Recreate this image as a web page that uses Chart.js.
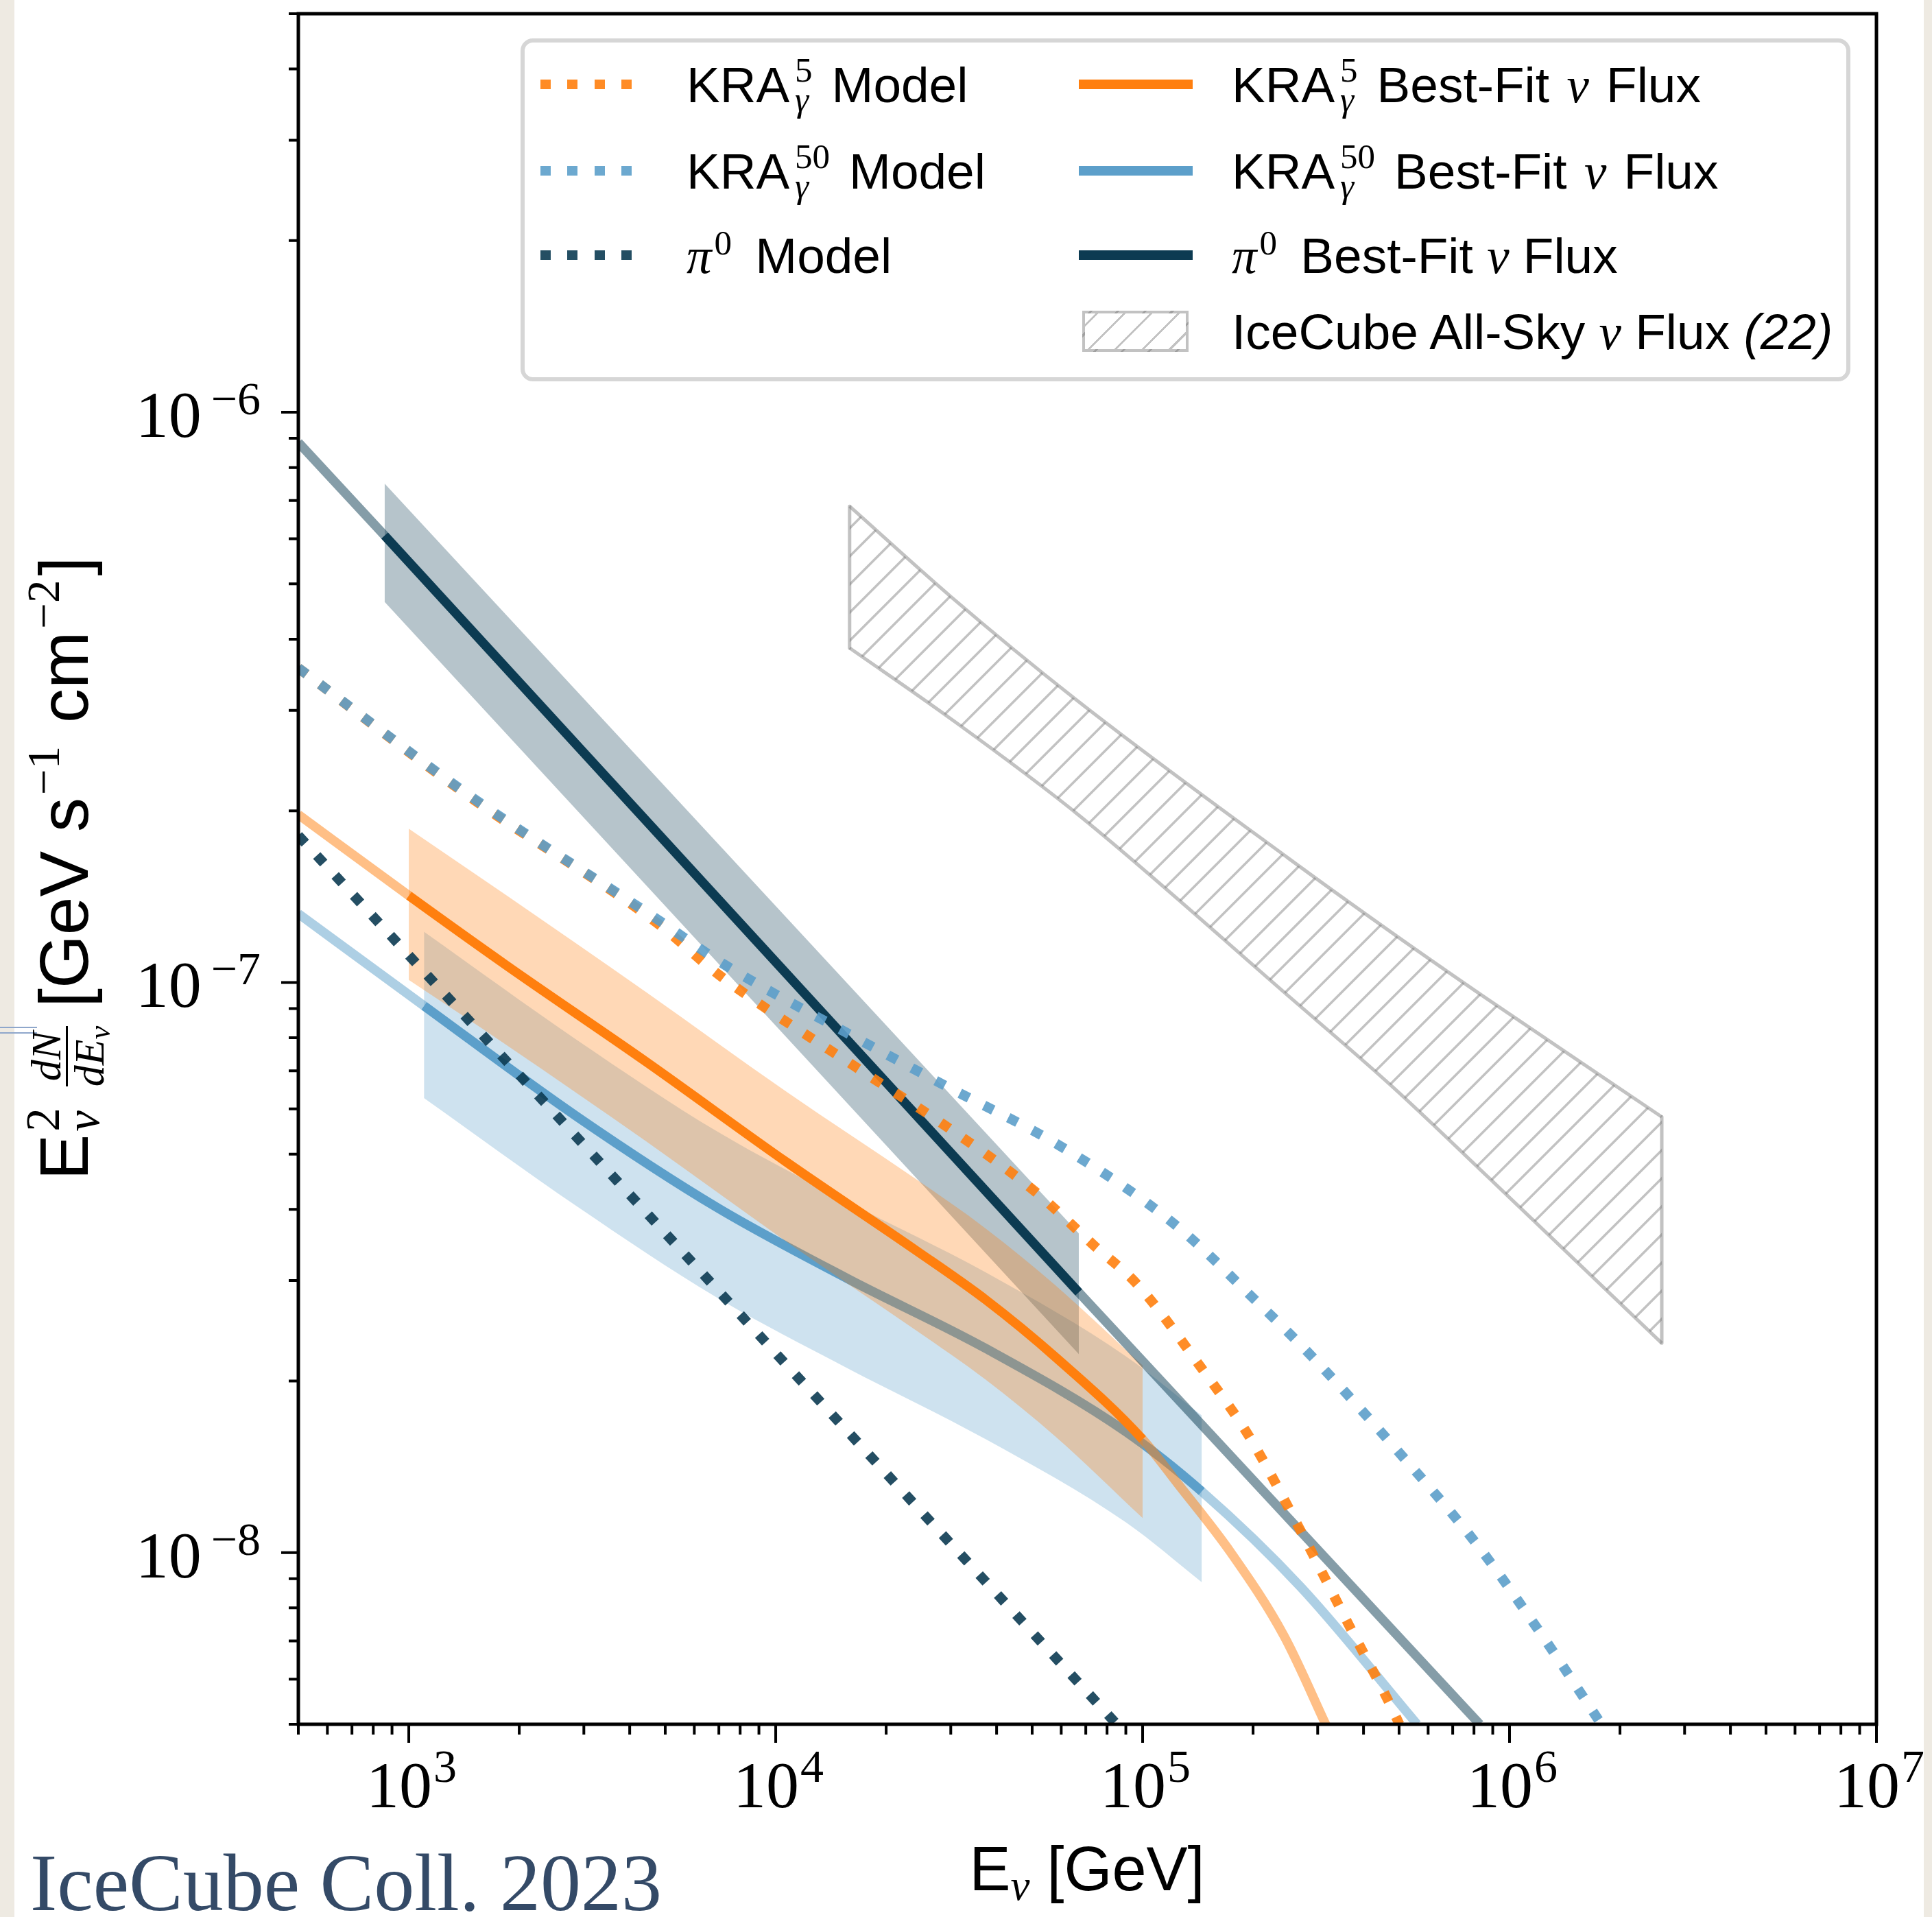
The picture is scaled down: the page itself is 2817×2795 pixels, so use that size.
<!DOCTYPE html>
<html>
<head>
<meta charset="utf-8">
<title>Galactic plane neutrino flux</title>
<script src="https://cdn.jsdelivr.net/npm/chart.js@4.4.1/dist/chart.umd.min.js"></script>
<style>
  body { margin: 0; width: 2817px; height: 2795px; position: relative; overflow: hidden; background: #eeeae2; }
  #sheet { position: absolute; left: 21px; top: 0; width: 2784px; height: 2795px; background: #fff; }
  #fluxChart { position: absolute; left: 0; top: 0; }
  .txt { position: absolute; white-space: nowrap; color: #000; font-family: 'Liberation Sans', Arial, sans-serif; }
  .math { font-family: 'Liberation Serif', 'DejaVu Serif', serif; font-style: italic; }

  /* legend */
  #legendBox { position: absolute; left: 759px; top: 56px; width: 1939px; height: 500px; box-sizing: border-box;
               border: 6px solid #d6d6d6; border-radius: 18px; background: #fff; }
  .sample { position: absolute; height: 14px; }
  .dots { width: 134px; background: repeating-linear-gradient(90deg, var(--c) 0 15px, transparent 15px 39.5px); }
  .solid { width: 166px; background: var(--c); }
  .hatch { left: 1578px; top: 453px; width: 155px; height: 60px; box-sizing: border-box;
           border: 4px solid rgba(120,120,120,0.45);
           background: repeating-linear-gradient(135deg, transparent 0 11px, rgba(120,120,120,0.45) 11px 14px, transparent 14px 28px); }
  .lg { font-size: 73px; line-height: 100px; }
  .ws { word-spacing: 5px; }
  .ss { display: inline-block; font-family: 'Liberation Serif', serif; font-size: 51px; line-height: 43px;
        vertical-align: -13px; margin: 0 28px 0 8px; word-spacing: 0; }
  .ss span { display: block; }
  .sp { font-family: 'Liberation Serif', serif; font-size: 51px; line-height: 40px; vertical-align: 27px; margin: 0 14px 0 4px; }

  /* axis titles */
  #xTitle { left: 1185px; top: 2665px; width: 800px; text-align: center; font-size: 90px; line-height: 120px; }
  .sub { font-family: 'Liberation Serif', serif; font-style: italic; font-size: 63px; line-height: 40px; vertical-align: -14px; }
  #yTitle { left: -507px; top: 1166px; width: 1200px; height: 200px; text-align: center; font-size: 100px;
            line-height: 200px; transform: rotate(-90deg); }
  .ss2 { display: inline-block; font-family: 'Liberation Serif', serif; font-size: 69px; line-height: 58px;
         vertical-align: -16px; margin: 0 23px 0 4px; text-align: left; }
  .ss2 span { display: block; }
  .frac { display: inline-block; vertical-align: -23px; text-align: center; font-family: 'Liberation Serif', serif;
          font-style: italic; font-size: 62px; margin: 0 27px 0 8px; }
  .frac .num { display: block; line-height: 46px; padding: 0 5px 6px; border-bottom: 3px solid #000; }
  .frac .den { display: block; line-height: 46px; padding-top: 8px; }
  .frac .den span { font-size: 44px; line-height: 20px; vertical-align: -9px; }
  .sp2 { font-family: 'Liberation Serif', serif; font-size: 67px; line-height: 40px; vertical-align: 42px; margin: 0 6px 0 4px; }

  #caption { left: 44px; top: 2676px; font-family: 'Liberation Serif', serif; font-size: 118px; line-height: 140px; color: #344a67; }
  .edgeMark { position: absolute; left: 0; width: 54px; height: 2px; background: #8fa7cb; }
</style>
</head>
<body>
<div id="sheet"></div>
<div class="edgeMark" style="top:1497px"></div>
<div class="edgeMark" style="top:1505px"></div>
<canvas id="fluxChart" width="2817" height="2795"></canvas>

<div id="legendBox"></div>
<div class="sample dots" style="left:788px;top:116px;--c:rgba(255,127,14,0.9)"></div>
<div class="sample dots" style="left:788px;top:242px;--c:rgba(92,159,202,0.9)"></div>
<div class="sample dots" style="left:788px;top:365px;--c:rgba(12,59,82,0.9)"></div>
<div class="sample solid" style="left:1573px;top:116px;--c:rgb(255,127,14)"></div>
<div class="sample solid" style="left:1573px;top:242px;--c:rgb(92,159,202)"></div>
<div class="sample solid" style="left:1573px;top:365px;--c:rgb(12,59,82)"></div>
<div class="sample hatch"></div>

<div class="txt lg" style="left:1001px;top:74px">KRA<span class="ss"><span>5</span><span class="math">γ</span></span>Model</div>
<div class="txt lg" style="left:1001px;top:200px">KRA<span class="ss"><span>50</span><span class="math">γ</span></span>Model</div>
<div class="txt lg" style="left:1001px;top:323px"><span class="math">π</span><span class="sp">0</span> Model</div>
<div class="txt lg ws" style="left:1796px;top:74px">KRA<span class="ss"><span>5</span><span class="math">γ</span></span>Best-Fit <span class="math">ν</span> Flux</div>
<div class="txt lg ws" style="left:1796px;top:200px">KRA<span class="ss"><span>50</span><span class="math">γ</span></span>Best-Fit <span class="math">ν</span> Flux</div>
<div class="txt lg" style="left:1796px;top:323px"><span class="math">π</span><span class="sp">0</span> Best-Fit <span class="math">ν</span> Flux</div>
<div class="txt lg" style="left:1796px;top:434px">IceCube All-Sky <span class="math">ν</span> Flux <i>(22)</i></div>

<div id="xTitle" class="txt">E<span class="sub">ν</span> [GeV]</div>
<div id="yTitle" class="txt">E<span class="ss2"><span>2</span><span class="math">ν</span></span><span class="frac"><span class="num">dN</span><span class="den">dE<span>ν</span></span></span>[GeV s<span class="sp2">−1</span> cm<span class="sp2">−2</span>]</div>
<div id="caption" class="txt">IceCube Coll. 2023</div>

<script>
// Values. Energy in GeV, flux E^2 dN/dE in GeV s^-1 cm^-2

// pi0 template: best fit (dark inside the sensitive energy range) and its band
const pi0FitEnergy = [500, 859, 67000, 830000];
const pi0FitFlux = [8.85e-7, 6.08e-7, 2.86e-8, 5.0e-9];
const pi0FitRange = [859, 67000];
const pi0BandEnergy = [859, 67000];
const pi0BandUpper = [7.5e-7, 3.63e-8];
const pi0BandLower = [4.65e-7, 2.23e-8];
const pi0ModelEnergy = [500, 6000, 85000];
const pi0ModelFlux = [1.81e-7, 3.2e-8, 5.0e-9];

// KRA-gamma 5 PeV cutoff
const kra5FitEnergy = [500, 1000, 1850, 4460, 10700, 24100, 37400, 58000, 100000, 126000, 174000, 243000, 320000];
const kra5FitFlux = [1.97e-7, 1.42e-7, 1.07e-7, 7.24e-8, 4.84e-8, 3.39e-8, 2.775e-8, 2.20e-8, 1.58e-8, 1.31e-8, 1.0e-8, 7.14e-9, 4.9e-9];
const kra5FitRange = [1000, 100000];
const kra5BandEnergy = [1000, 1850, 4460, 10700, 24100, 37400, 58000, 100000];
const kra5BandUpper = [1.86e-7, 1.42e-7, 9.59e-8, 6.43e-8, 4.52e-8, 3.70e-8, 2.94e-8, 2.13e-8];
const kra5BandLower = [1.01e-7, 7.76e-8, 5.25e-8, 3.51e-8, 2.455e-8, 2.01e-8, 1.596e-8, 1.15e-8];
const kra5ModelEnergy = [500, 1490, 4760, 7020, 16500, 29300, 50700, 73600, 96400, 146000, 195000, 270000, 360000, 469000, 501000];
const kra5ModelFlux = [3.56e-7, 2.10e-7, 1.27e-7, 1.03e-7, 7.11e-8, 5.58e-8, 4.31e-8, 3.46e-8, 2.96e-8, 2.09e-8, 1.60e-8, 1.09e-8, 7.59e-9, 5.47e-9, 5.0e-9];

// KRA-gamma 50 PeV cutoff
const kra50FitEnergy = [500, 1100, 2870, 6920, 15600, 37400, 90000, 145000, 270000, 560000];
const kra50FitFlux = [1.32e-7, 9.1e-8, 5.82e-8, 4.03e-8, 3.03e-8, 2.28e-8, 1.63e-8, 1.28e-8, 8.7e-9, 5.0e-9];
const kra50FitRange = [1100, 145000];
const kra50BandEnergy = [1100, 2870, 6920, 15600, 37400, 90000, 145000];
const kra50BandUpper = [1.227e-7, 7.93e-8, 5.48e-8, 4.13e-8, 3.10e-8, 2.21e-8, 1.74e-8];
const kra50BandLower = [6.27e-8, 4.05e-8, 2.80e-8, 2.11e-8, 1.58e-8, 1.13e-8, 8.87e-9];
const kra50ModelEnergy = [500, 1490, 4760, 7330, 15500, 28600, 60400, 122000, 203000, 289000, 518000, 809000, 1200000, 1780000];
const kra50ModelFlux = [3.56e-7, 2.11e-7, 1.29e-7, 1.07e-7, 8.18e-8, 6.62e-8, 5.14e-8, 3.77e-8, 2.77e-8, 2.21e-8, 1.46e-8, 1.04e-8, 7.31e-9, 5.0e-9];

// IceCube all-sky diffuse flux (ref. 22), 1 sigma band
const allSkyEnergy = [15900, 30000, 66000, 250000, 480000, 870000, 2600000];
const allSkyUpper = [6.84e-7, 4.75e-7, 3.13e-7, 1.65e-7, 1.22e-7, 9.35e-8, 5.81e-8];
const allSkyLower = [3.86e-7, 2.90e-7, 1.98e-7, 9.46e-8, 6.56e-8, 4.57e-8, 2.33e-8];

// axes: decade ticks get a 10^n label
const xRange = [500, 1e7];
const yRange = [5e-9, 5e-6];
const xDecades = [1e3, 1e4, 1e5, 1e6, 1e7];
const xTickExponents = ['3', '4', '5', '6', '7'];
const yDecades = [1e-8, 1e-7, 1e-6];
const yTickExponents = ['−8', '−7', '−6'];

const NAVY = 'rgb(12,59,82)';
const ORANGE = 'rgb(255,127,14)';
const BLUE = 'rgb(92,159,202)';
const EDGE = 'rgba(120,120,120,0.45)';
const TICK_FONT = '96px "Liberation Serif"';
const EXP_FONT = '68px "Liberation Serif"';

function xy(energy, flux) {
    return energy.map(function(e, i) { return { x: e, y: flux[i] }; });
}

// dark inside the fitted energy range, faded outside it
function inRange(range, dark, light) {
    return function(seg) {
        return (seg.p0.parsed.x >= range[0] && seg.p1.parsed.x <= range[1]) ? dark : light;
    };
}

// every 1..9 x 10^n between min and max, decades flagged as major
function logTicks(min, max) {
    var out = [];
    for (var e = Math.floor(Math.log10(min)); e <= Math.ceil(Math.log10(max)); e++) {
        for (var m = 1; m <= 9; m++) {
            var v = m * Math.pow(10, e);
            if (v >= min * 0.999 && v <= max * 1.001) out.push({ value: v, major: m === 1 });
        }
    }
    return out;
}

function decadeIndex(value, decades) {
    return decades.findIndex(function(d) { return Math.abs(value - d) / d < 1e-6; });
}

function makeHatch(ctx) {
    var s = 41;
    var c = document.createElement('canvas');
    c.width = s; c.height = s;
    var g = c.getContext('2d');
    g.strokeStyle = EDGE;
    g.lineWidth = 3.5;
    g.beginPath();
    g.moveTo(0, s); g.lineTo(s, 0);
    g.moveTo(-3, 3); g.lineTo(3, -3);
    g.moveTo(s - 3, s + 3); g.lineTo(s + 3, s - 3);
    g.stroke();
    return ctx.createPattern(c, 'repeat');
}

// matplotlib-like frame: long major and short minor ticks, 10^n labels with raised exponent
const axisFrame = {
    id: 'axisFrame',
    afterDraw: function(chart) {
        var ctx = chart.ctx, a = chart.chartArea, sx = chart.scales.x, sy = chart.scales.y;
        ctx.save();
        ctx.strokeStyle = '#000';
        ctx.lineWidth = 4;
        ctx.beginPath();
        sx.ticks.forEach(function(t) {
            var px = sx.getPixelForValue(t.value);
            ctx.moveTo(px, a.bottom);
            ctx.lineTo(px, a.bottom + (t.major ? 27 : 15));
        });
        sy.ticks.forEach(function(t) {
            var py = sy.getPixelForValue(t.value);
            ctx.moveTo(a.left, py);
            ctx.lineTo(a.left - (t.major ? 25 : 14), py);
        });
        ctx.stroke();
        ctx.lineWidth = 5;
        ctx.strokeRect(a.left, a.top, a.right - a.left, a.bottom - a.top);

        ctx.fillStyle = '#000';
        ctx.textBaseline = 'alphabetic';
        ctx.textAlign = 'left';
        sx.ticks.forEach(function(t) {
            var i = decadeIndex(t.value, xDecades);
            if (i < 0) return;
            var px = sx.getPixelForValue(t.value);
            ctx.font = TICK_FONT;
            var wBase = ctx.measureText('10').width;
            ctx.font = EXP_FONT;
            var wExp = ctx.measureText(xTickExponents[i]).width;
            var left = px + 4 - (wBase + 2 + wExp) / 2;
            var base = a.bottom + 121;
            ctx.font = TICK_FONT;
            ctx.fillText('10', left, base);
            ctx.font = EXP_FONT;
            ctx.fillText(xTickExponents[i], left + wBase + 2, base - 37);
        });
        ctx.textAlign = 'right';
        sy.ticks.forEach(function(t) {
            var i = decadeIndex(t.value, yDecades);
            if (i < 0) return;
            var py = sy.getPixelForValue(t.value);
            var right = a.left - 55;
            ctx.font = EXP_FONT;
            var wExp = ctx.measureText(yTickExponents[i]).width;
            ctx.fillText(yTickExponents[i], right, py + 3);
            ctx.font = TICK_FONT;
            ctx.fillText('10', right - wExp - 14, py + 36);
        });
        ctx.restore();
    }
};

document.addEventListener('DOMContentLoaded', function() {
    var ctx = document.getElementById('fluxChart').getContext('2d');
    var hatch = makeHatch(ctx);
    var curve = 'monotone';
    var dash = [15, 24.6];

    var datasets = [
        // all-sky band, hatched, with its outline
        { data: xy(allSkyEnergy, allSkyUpper), borderColor: EDGE, borderWidth: 5, backgroundColor: hatch, fill: '+1', cubicInterpolationMode: curve, order: 100 },
        { data: xy(allSkyEnergy, allSkyLower), borderColor: EDGE, borderWidth: 5, fill: false, cubicInterpolationMode: curve, order: 99 },
        { data: [{ x: allSkyEnergy[0], y: allSkyUpper[0] }, { x: allSkyEnergy[0], y: allSkyLower[0] }], borderColor: EDGE, borderWidth: 5, order: 98 },
        { data: [{ x: allSkyEnergy[6], y: allSkyUpper[6] }, { x: allSkyEnergy[6], y: allSkyLower[6] }], borderColor: EDGE, borderWidth: 5, order: 98 },

        // uncertainty bands
        { data: xy(kra50BandEnergy, kra50BandUpper), borderWidth: 0, backgroundColor: 'rgba(92,159,202,0.3)', fill: '+1', cubicInterpolationMode: curve, order: 90 },
        { data: xy(kra50BandEnergy, kra50BandLower), borderWidth: 0, fill: false, cubicInterpolationMode: curve, order: 89 },
        { data: xy(pi0BandEnergy, pi0BandUpper), borderWidth: 0, backgroundColor: 'rgba(12,59,82,0.3)', fill: '+1', order: 80 },
        { data: xy(pi0BandEnergy, pi0BandLower), borderWidth: 0, fill: false, order: 79 },
        { data: xy(kra50FitEnergy, kra50FitFlux), borderColor: BLUE, borderWidth: 13.5, cubicInterpolationMode: curve,
          segment: { borderColor: inRange(kra50FitRange, BLUE, 'rgba(92,159,202,0.5)') }, order: 70 },
        { data: xy(kra5BandEnergy, kra5BandUpper), borderWidth: 0, backgroundColor: 'rgba(255,127,14,0.3)', fill: '+1', cubicInterpolationMode: curve, order: 60 },
        { data: xy(kra5BandEnergy, kra5BandLower), borderWidth: 0, fill: false, cubicInterpolationMode: curve, order: 59 },

        // best-fit fluxes
        { data: xy(kra5FitEnergy, kra5FitFlux), borderColor: ORANGE, borderWidth: 13.5, cubicInterpolationMode: curve,
          segment: { borderColor: inRange(kra5FitRange, ORANGE, 'rgba(255,127,14,0.5)') }, order: 50 },
        { data: xy(pi0FitEnergy, pi0FitFlux), borderColor: NAVY, borderWidth: 13.5,
          segment: { borderColor: inRange(pi0FitRange, NAVY, 'rgba(12,59,82,0.5)') }, order: 40 },

        // model predictions, dotted
        { data: xy(kra5ModelEnergy, kra5ModelFlux), borderColor: 'rgba(255,127,14,0.9)', borderWidth: 14.5, borderDash: dash, cubicInterpolationMode: curve, order: 30 },
        { data: xy(kra50ModelEnergy, kra50ModelFlux), borderColor: 'rgba(92,159,202,0.9)', borderWidth: 14.5, borderDash: dash, cubicInterpolationMode: curve, order: 20 },
        { data: xy(pi0ModelEnergy, pi0ModelFlux), borderColor: 'rgba(12,59,82,0.9)', borderWidth: 14.5, borderDash: dash, order: 10 }
    ];

    new Chart(ctx, {
        type: 'line',
        data: { datasets: datasets },
        options: {
            responsive: false,
            animation: false,
            events: [],
            layout: { padding: { left: 0, top: 20, right: 81, bottom: 0 } },
            datasets: { line: { clip: 0, pointRadius: 0, borderCapStyle: 'butt', borderJoinStyle: 'round' } },
            plugins: {
                legend: { display: false },
                tooltip: { enabled: false },
                filler: { propagate: false }
            },
            scales: {
                x: {
                    type: 'logarithmic',
                    min: xRange[0],
                    max: xRange[1],
                    afterFit: function(s) { s.height = 281; s.paddingLeft = 0; s.paddingRight = 0; },
                    afterBuildTicks: function(s) { s.ticks = logTicks(xRange[0], xRange[1]); },
                    grid: { display: false },
                    border: { display: false },
                    ticks: { display: false, autoSkip: false }
                },
                y: {
                    type: 'logarithmic',
                    min: yRange[0],
                    max: yRange[1],
                    afterFit: function(s) { s.width = 435; s.paddingTop = 0; s.paddingBottom = 0; },
                    afterBuildTicks: function(s) { s.ticks = logTicks(yRange[0], yRange[1]); },
                    grid: { display: false },
                    border: { display: false },
                    ticks: { display: false, autoSkip: false }
                }
            }
        },
        plugins: [axisFrame]
    });
});
</script>
</body>
</html>
